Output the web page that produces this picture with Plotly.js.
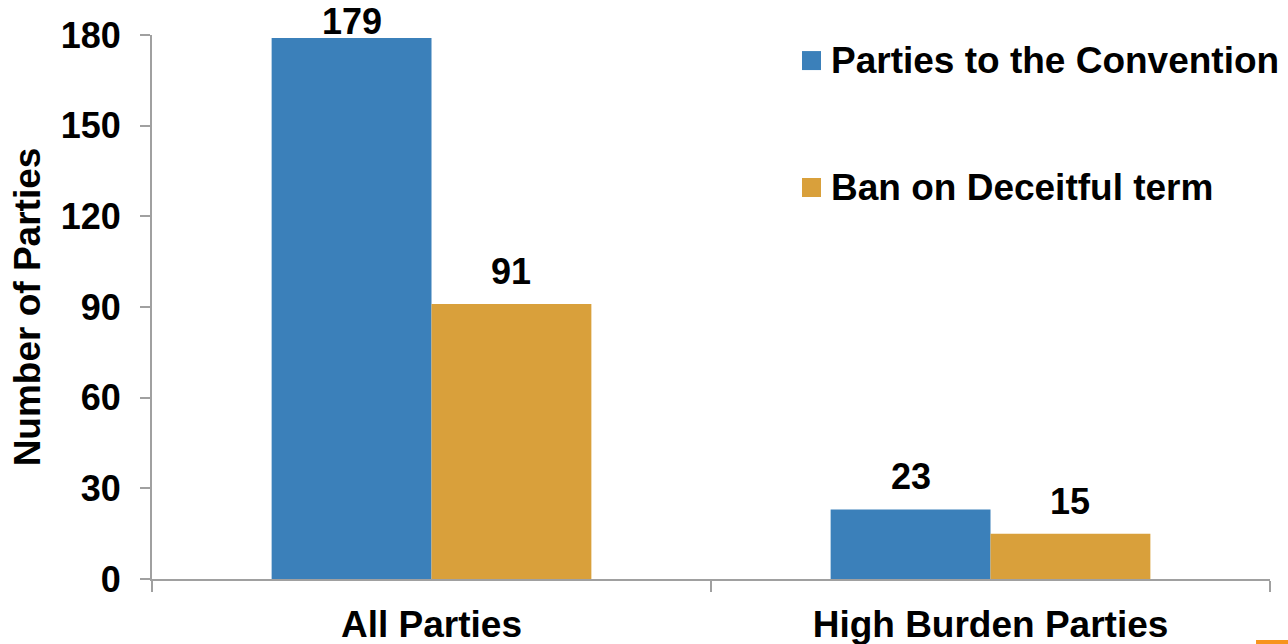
<!DOCTYPE html>
<html>
<head>
<meta charset="utf-8">
<script src="https://cdn.plot.ly/plotly-3.0.1.min.js"></script>
<style>
  html, body { margin: 0; padding: 0; background: #ffffff; }
  #chart { width: 1288px; height: 644px; }
</style>
</head>
<body>
<div id="chart"></div>
<script>
// Categories and series
const categories = ["All Parties", "High Burden Parties"];
const seriesNames = ["Parties to the Convention", "Ban on Deceitful term"];
const conventionParties = [179, 23];
const deceitfulBan = [91, 15];
const seriesColors = ["#3b80ba", "#d9a03b"];
const yTicks = [0, 30, 60, 90, 120, 150, 180];

const FONT = "Arial, 'Liberation Sans', sans-serif";
const AXIS_GREY = "#a0a0a0";

const WIDTH = 1288, HEIGHT = 644;
const MARGIN = { l: 152, r: 18, t: 35, b: 65, pad: 0 };
const Y_MAX = 180;
const BAR_GAP = 0.428;
const LABEL_SIZE = 36;
const LABEL_GAP = 10;     // px between bar top and value label box
const LABEL_BOX_H = 44;   // approx. height of a value label box

const allSeries = [conventionParties, deceitfulBan];

const traces = allSeries.map((values, j) => ({
  type: "bar",
  name: seriesNames[j],
  x: categories,
  y: values,
  marker: { color: seriesColors[j] },
  hoverinfo: "x+y+name"
}));

// Value labels above each bar, kept inside the page at the top edge
const plotH = HEIGHT - MARGIN.t - MARGIN.b;
const barW = (1 - BAR_GAP) / allSeries.length;
const annotations = [];
allSeries.forEach((values, j) => {
  const offset = (j - (allSeries.length - 1) / 2) * barW;
  values.forEach((v, i) => {
    const barTopPx = MARGIN.t + (1 - v / Y_MAX) * plotH;
    annotations.push({
      xref: "x", yref: "y",
      x: i + offset, y: v,
      xanchor: "center", yanchor: "bottom",
      yshift: Math.min(LABEL_GAP, barTopPx - LABEL_BOX_H),
      text: String(v), showarrow: false,
      font: { family: FONT, size: LABEL_SIZE, color: "#000000", weight: "bold" }
    });
  });
});

// Legend drawn as swatches + labels in the upper right
const legendX = 0.5814;            // swatch left edge (paper)
const legendRows = [0.953, 0.7197]; // row centres (paper)
const swatchW = 19 / (WIDTH - MARGIN.l - MARGIN.r);
const swatchH = 19 / plotH;

const shapes = [];
seriesNames.forEach((name, i) => {
  shapes.push({
    type: "rect", xref: "paper", yref: "paper",
    x0: legendX, x1: legendX + swatchW,
    y0: legendRows[i] - swatchH / 2, y1: legendRows[i] + swatchH / 2,
    fillcolor: seriesColors[i], line: { width: 0 }
  });
  annotations.push({
    xref: "paper", yref: "paper",
    x: legendX + swatchW + 0.007, y: legendRows[i],
    xanchor: "left", yanchor: "middle",
    text: name, showarrow: false,
    font: { family: FONT, size: 37, color: "#000000", weight: "bold" }
  });
});

// Small orange accent in the bottom-right corner
shapes.push({
  type: "rect", xref: "paper", yref: "paper",
  x0: 0.9875, x1: 1.02, y0: -0.125, y1: -0.112,
  fillcolor: "#f7941d", line: { width: 0 }
});

const layout = {
  width: WIDTH,
  height: HEIGHT,
  margin: MARGIN,
  paper_bgcolor: "#ffffff",
  plot_bgcolor: "#ffffff",
  showlegend: false,
  barmode: "group",
  bargap: BAR_GAP,
  bargroupgap: 0,
  font: { family: FONT, color: "#000000" },
  xaxis: {
    type: "category",
    showline: true, linecolor: AXIS_GREY, linewidth: 2,
    ticks: "outside", tickson: "boundaries", ticklen: 11,
    tickcolor: AXIS_GREY, tickwidth: 2,
    ticklabelstandoff: 12,
    showgrid: false, zeroline: false,
    tickfont: { family: FONT, size: 37, color: "#000000", weight: "bold" }
  },
  yaxis: {
    range: [0, Y_MAX],
    tickmode: "array", tickvals: yTicks, ticktext: yTicks.map(String),
    showline: true, linecolor: AXIS_GREY, linewidth: 2,
    ticks: "outside", ticklen: 10, tickcolor: AXIS_GREY, tickwidth: 2,
    ticklabelstandoff: 12,
    showgrid: false, zeroline: false,
    tickfont: { family: FONT, size: 36, color: "#000000", weight: "bold" },
    title: {
      text: "Number of Parties",
      standoff: 9,
      font: { family: FONT, size: 37, color: "#000000", weight: "bold" }
    }
  },
  shapes: shapes,
  annotations: annotations
};

Plotly.newPlot("chart", traces, layout, { displayModeBar: false, staticPlot: true });
</script>
</body>
</html>
